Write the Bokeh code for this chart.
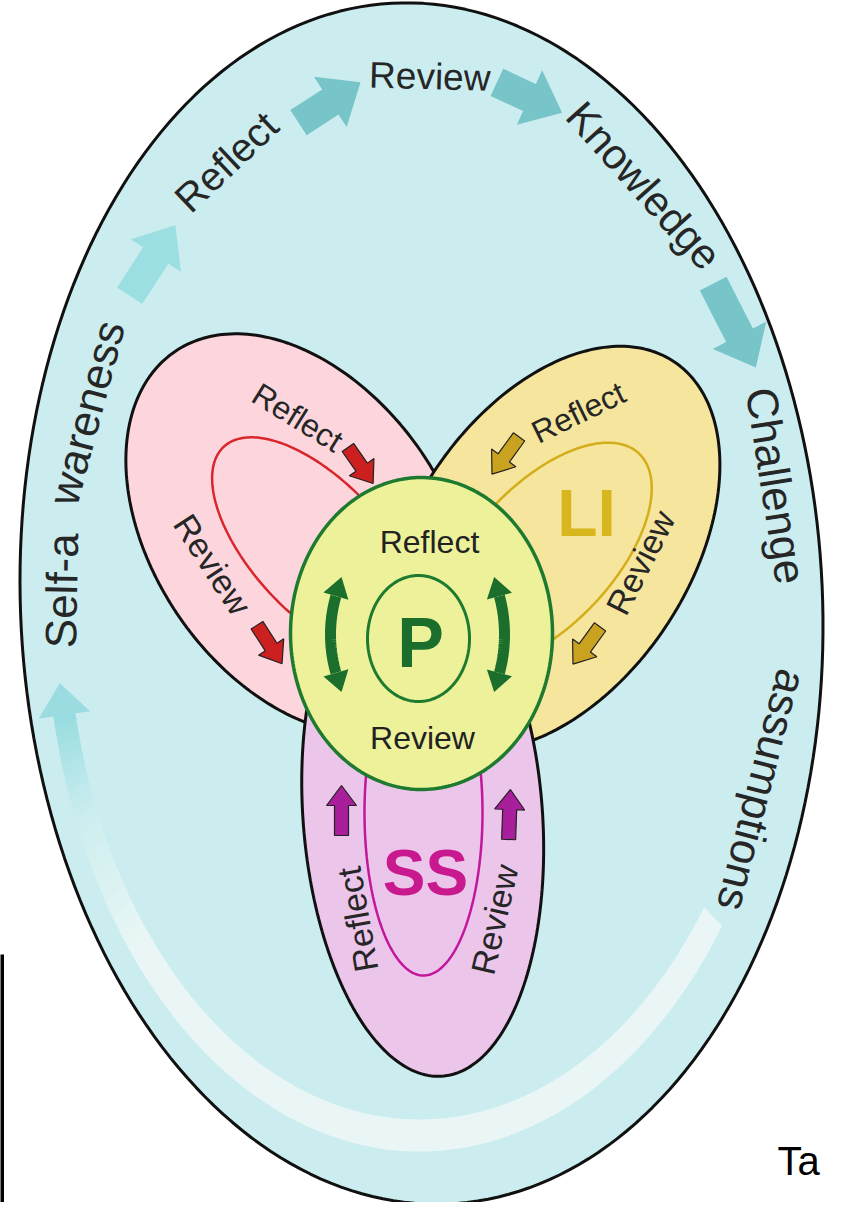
import numpy as np
from bokeh.plotting import figure
from bokeh.models import Range1d
from bokeh.embed import file_html
from bokeh.resources import INLINE
from bokeh.core.properties import value

FONT = "Liberation Sans"

# ---------------- shapes: centre x, centre y, semi-axis a, semi-axis b, rotation (deg) -------------
OUTER = (429, 611, 401, 601, -2.6)
PINK = (307.5, 541.5, 221.2, 146.5, -124.6)
YELLOW = (557.8, 556.0, 139.4, 224.1, -146.6)
PURPLE = (430.2, 822.9, 261.5, 119.7, -94.3)
CIRCLE = (429, 641, 131, 156, 0)
PCIRCLE = (426, 646, 51, 63, 0)
RED_LOOP = (326, 556, 139, 66, 47)
GOLD_LOOP = (551.5, 562.5, 139, 70, 133)
MAG_LOOP = (431, 820, 59, 163, 0)

# text path round the outer ellipse: cx, cy, a, b
TPATH = (431, 612, 362, 528)
OUTER_WORDS = ["Self-a", "wareness", "Reflect", "Review", "Knowledge", "Challenge", "assumptions"]
OUTER_T = [181.5, 201.3, 237, 271, 307.5, 347.0, 20.6]
OUTER_SIZE = [44, 44, 40, 37, 42, 44, 44]

# block arrows on the outer path: centre x, centre y, angle, length
TOP_ARROWS = [(160, 268, 57, 84), (337, 110, 33, 74), (537, 105, -25, 72), (742, 333, -63, 94)]
TOP_ARROW_COLORS = ["#9CDFE3", "#77C4C9", "#77C4C9", "#77C4C9"]

# petal labels: text, x, y, angle, size
PETAL_LABELS = [("Reflect", 305, 425, -31.8, 32), ("Review", 220, 572, -57, 34),
                ("Reflect", 586, 420, 26, 32), ("Review", 648, 570, 63, 34),
                ("Reflect", 365, 927, 100, 34), ("Review", 502, 927, 77, 34)]
PETAL_ARROWS = [(368, 473, -55, 44, "#CC1F1F"), (277, 652, -57, 46, "#CC1F1F"),
                (513, 463, -126, 46, "#C9A21F"), (594, 653, -126, 46, "#C9A21F"),
                (349, 818, 90, 50, "#A81E9B"), (517, 822, 88, 50, "#A81E9B")]

p = figure(width=825, height=1202, x_range=Range1d(8, 833), y_range=Range1d(1210, 8),
           x_axis_type=None, y_axis_type=None, output_backend="svg", toolbar_location=None,
           min_border=0)
p.grid.visible = False
p.outline_line_color = None
p.background_fill_color = "white"
p.border_fill_color = "white"


def ell(e, n=240, t0=0.0, t1=360.0):
    cx, cy, a, b, ang = e
    t = np.radians(np.linspace(t0, t1, n))
    ca, sa = np.cos(np.radians(ang)), np.sin(np.radians(ang))
    x = cx + a * np.cos(t) * ca - b * np.sin(t) * sa
    y = cy + a * np.cos(t) * sa + b * np.sin(t) * ca
    return x, y


def txt(x, y, s, size, angle=0.0, color="#222222", bold=False, align="center", baseline="middle"):
    p.text(x=[x], y=[y], text=[s], angle=[angle], angle_units="deg", text_font=value(FONT),
           text_font_size=value(f"{size}px"), text_color=color, text_align=align,
           text_baseline=baseline, text_font_style="bold" if bold else "normal")


def block_arrow(cx, cy, theta, L, sw, hw, hl):
    th = np.radians(theta)
    d = np.array([np.cos(th), -np.sin(th)])
    n = np.array([-d[1], d[0]])
    c = np.array([cx, cy])
    tail, tip = c - d * L / 2, c + d * L / 2
    hb = tip - d * hl
    pts = [tail + n * sw / 2, hb + n * sw / 2, hb + n * hw / 2, tip, hb - n * hw / 2, hb - n * sw / 2,
           tail - n * sw / 2]
    return [q[0] for q in pts], [q[1] for q in pts]


# left edge line of a neighbouring frame
p.line([9.5, 9.5], [962, 1212], line_color="black", line_width=4)

# outer egg
x, y = ell(OUTER)
p.patch(x, y, fill_color="#CBEDF0", line_color="#111111", line_width=3)

# return band (fading)
BAND_C = (427, 612, 363, 531)
t_lo, t_hi = 36, 168
ts = np.arange(t_lo, t_hi + 1, 1.0)
xs, ys, cols = [], [], []
c_light = np.array([233, 246, 245])
c_mid = np.array([205, 238, 240])
c_dark = np.array([150, 220, 224])
for i in range(len(ts) - 1):
    ta, tb = np.radians(ts[i]), np.radians(ts[i + 1] + 0.3)
    cx, cy, a, b = BAND_C
    qa = [(cx + (a - 11) * np.cos(ta), cy + (b - 16) * np.sin(ta)), (cx + (a + 11) * np.cos(ta), cy + (b + 16) * np.sin(ta)),
          (cx + (a + 11) * np.cos(tb), cy + (b + 16) * np.sin(tb)), (cx + (a - 11) * np.cos(tb), cy + (b - 16) * np.sin(tb))]
    xs.append([q[0] for q in qa])
    ys.append([q[1] for q in qa])
    tm = ts[i]
    if tm < 140:
        col = c_light
    elif tm < 156:
        f = (tm - 140) / 16
        col = c_light * (1 - f) + c_mid * f
    else:
        f = min(1, (tm - 156) / 12)
        col = c_mid * (1 - f) + c_dark * f
    cols.append("#%02x%02x%02x" % tuple(int(v) for v in col))
p.patches(xs, ys, fill_color=cols, line_color=None)
# band arrow head
cx, cy, a, b = BAND_C
th = np.radians(t_hi)
base = np.array([cx + a * np.cos(th), cy + b * np.sin(th)])
d = np.array([-a * np.sin(th), b * np.cos(th)])
d = d / np.linalg.norm(d)
nrm = np.array([-d[1], d[0]])
tri = [base + nrm * 26, base + d * 32, base - nrm * 26]
p.patch([q[0] for q in tri], [q[1] for q in tri], fill_color="#9ADCE0", line_color=None)

# top arrows
for (ax_, ay_, th_, L_), col in zip(TOP_ARROWS, TOP_ARROW_COLORS):
    bx, by = block_arrow(ax_, ay_, th_, L_, 30, 60, 36)
    p.patch(bx, by, fill_color=col, line_color=None)

# outer words
cx, cy, a, b = TPATH
for w, tdeg, sz in zip(OUTER_WORDS, OUTER_T, OUTER_SIZE):
    t = np.radians(tdeg)
    px_, py_ = cx + a * np.cos(t), cy + b * np.sin(t)
    dx, dy = -a * np.sin(t), b * np.cos(t)
    ang = np.degrees(np.arctan2(-dy, dx))
    txt(px_, py_, w, sz, ang, color="#262626")

# petals
for e, fc, loop, lc in [(PINK, "#FDD6DD", RED_LOOP, "#D9262C"), (YELLOW, "#F6E59D", GOLD_LOOP, "#D4AE1A"),
                        (PURPLE, "#ECC5EB", MAG_LOOP, "#C3179B")]:
    x, y = ell(e)
    p.patch(x, y, fill_color=fc, line_color="#111111", line_width=3)
    x, y = ell(loop)
    p.line(x, y, line_color=lc, line_width=2.5)

for (s, x_, y_, a_, sz) in PETAL_LABELS:
    txt(x_, y_, s, sz, a_, color="#262626")
for (x_, y_, th_, L_, col) in PETAL_ARROWS:
    bx, by = block_arrow(x_, y_, th_, L_, 14, 30, 20)
    p.patch(bx, by, fill_color=col, line_color="#222222", line_width=1.2)

txt(594, 520, "LI", 66, 0, color="#D8B61E", bold=True)
txt(433, 880, "SS", 64, 0, color="#C8198F", bold=True)

# centre circle
x, y = ell(CIRCLE)
p.patch(x, y, fill_color="#EDF29A", line_color="#1D7A2E", line_width=3.5)
x, y = ell(PCIRCLE)
p.line(x, y, line_color="#1D7A2E", line_width=3)
txt(428, 650, "P", 70, 0, color="#1B6E2B", bold=True)
txt(437, 549, "Reflect", 32)
txt(430, 745, "Review", 32)

GREEN = "#1B6E2B"
for (gcx, gcy, rx, ry, t0, t1) in [(428, 642, 90, 112, 160, 200), (428, 642, 84, 112, -20, 20)]:
    tt = np.radians(np.linspace(t0, t1, 40))
    p.line(gcx + rx * np.cos(tt), gcy + ry * np.sin(tt), line_color=GREEN, line_width=11)
    for tv, sgn in [(t0, -1), (t1, 1)]:
        t = np.radians(tv)
        pt = np.array([gcx + rx * np.cos(t), gcy + ry * np.sin(t)])
        d = sgn * np.array([-rx * np.sin(t), ry * np.cos(t)])
        d = d / np.linalg.norm(d)
        nrm = np.array([-d[1], d[0]])
        tri = [pt + nrm * 13, pt + d * 20, pt - nrm * 13]
        p.patch([q[0] for q in tri], [q[1] for q in tri], fill_color=GREEN, line_color=None)

txt(785, 1168, "Ta", 40, 0, color="black", align="left", baseline="alphabetic")

open("out.html", "w").write(file_html(p, INLINE, "diagram"))
